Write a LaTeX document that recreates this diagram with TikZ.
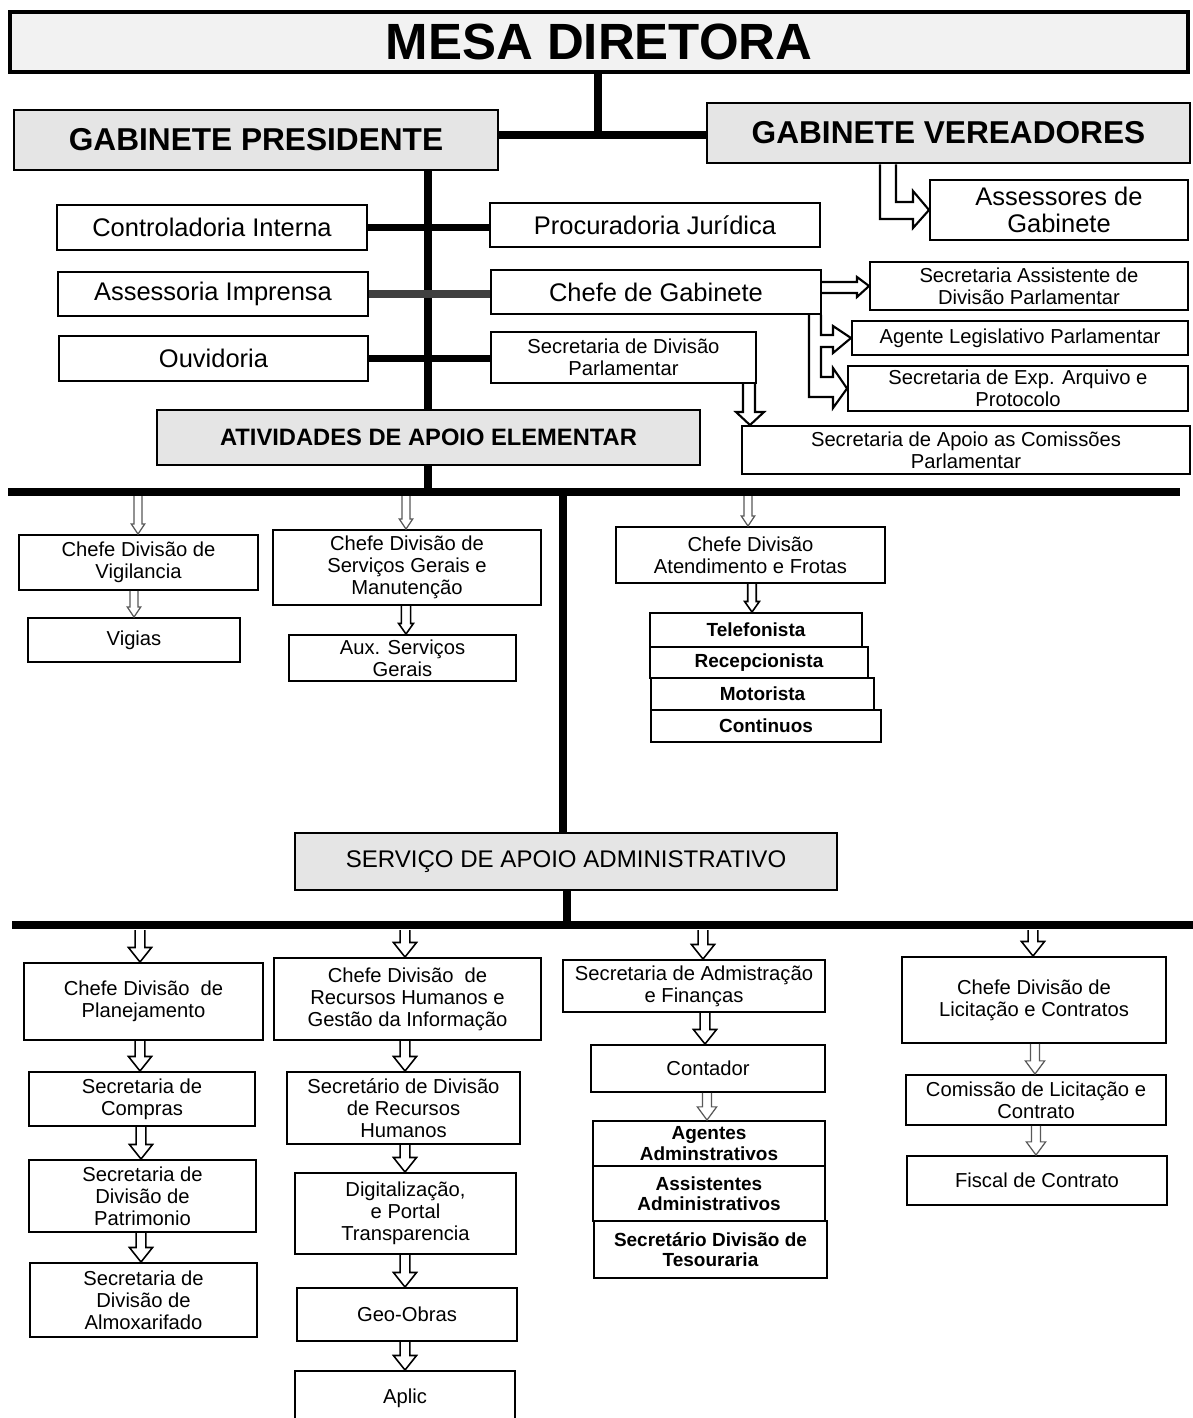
\documentclass[tikz,border=0pt]{standalone}
\usepackage{fontspec}
\setmainfont{Liberation Sans}
\usetikzlibrary{calc}
\tikzset{
  base/.style={draw, line width=1.1pt, inner sep=0pt, align=center,
    font=\fontsize{11.5}{12.5}\selectfont},
  midbox/.style={font=\fontsize{14.5}{15.5}\selectfont},
  stackbox/.style={font=\bfseries\fontsize{10.8}{11.5}\selectfont},
  headbox/.style={line width=1.5pt, fill=black!10,
    font=\bfseries\fontsize{18}{20}\selectfont},
  bigline/.style={line width=4.5pt},
  elbow/.style={draw, line width=1.2pt, line join=miter},
  upar/.style={draw, line width=0.7pt, black!65, line join=miter},
  lowar/.style={draw, line width=0.9pt, line join=miter},
}
% box from corner (x1,y1) to corner (x2,y2), in pixels
\newcommand\bx[7][]{%
  \pgfmathsetmacro\bxcx{(#3+#5)/2}%
  \pgfmathsetmacro\bxcy{(#4+#6)/2}%
  \pgfmathsetmacro\bxw{(#5-#3)*0.02}%
  \pgfmathsetmacro\bxh{(#6-#4)*0.02}%
  \node[base,#1,minimum width=\bxw cm,minimum height=\bxh cm] (#2) at (\bxcx,\bxcy) {#7};}
% hollow down arrow: style, from, to, x, shaft half, head half, head length
\newcommand\hdown[7]{\draw[#1] let \p1=(#2), \p2=(#3), \p3=(#4,0) in
  (\x3-#5,\y1) -- (\x3-#5,\y2+#7) -- (\x3-#6,\y2+#7) -- (\x3,\y2)
  -- (\x3+#6,\y2+#7) -- (\x3+#5,\y2+#7) -- (\x3+#5,\y1);}
\newcommand\uparr[3]{\hdown{upar}{#1}{#2}{#3}{2.3pt}{3.8pt}{5.7pt}}
\newcommand\lowarr[3]{\hdown{lowar}{#1}{#2}{#3}{2.8pt}{6.6pt}{8.3pt}}
\begin{document}
\begin{tikzpicture}[x=0.02cm,y=-0.02cm]
\useasboundingbox (0,0) rectangle (1193,1418);
\fill[white] (0,0) rectangle (1193,1418);

% ---------- top level
\bx[headbox, line width=1.8pt, fill=black!5, font=\bfseries\fontsize{29}{32}\selectfont]{mesa}{10}{12}{1188}{72}{MESA DIRETORA}
\bx[headbox]{gp}{14}{110}{498}{170}{GABINETE PRESIDENTE}
\bx[headbox]{gv}{707}{103}{1190}{163}{GABINETE VEREADORES}

\bx[midbox]{ci}{57}{205}{367}{250}{Controladoria Interna}
\bx[midbox]{ai}{58}{272}{368}{316}{Assessoria Imprensa}
\bx[midbox]{ouv}{59}{336}{368}{381}{Ouvidoria}
\bx[midbox]{pj}{490}{203}{820}{247}{Procuradoria Jurídica}
\bx[midbox]{cg}{491}{270}{821}{314}{Chefe de Gabinete}
\bx{sdp}{491}{332}{756}{383}{Secretaria de Divisão\\Parlamentar}
\bx[headbox, font=\bfseries\fontsize{13.5}{15}\selectfont]{ativ}{157}{410}{700}{465}{ATIVIDADES DE APOIO ELEMENTAR}

\bx[midbox]{ass}{930}{180}{1188}{240}{Assessores de\\Gabinete}
\bx{sass}{870}{262}{1188}{310}{Secretaria Assistente de\\Divisão Parlamentar}
\bx{agl}{852}{321}{1188}{355}{Agente Legislativo Parlamentar}
\bx{sexp}{848}{366}{1188}{411}{Secretaria de Exp. Arquivo e\\Protocolo}
\bx{sap}{742}{426}{1190}{474}{Secretaria de Apoio as Comissões\\Parlamentar}

% ---------- apoio elementar
\bx{vig}{19}{535}{258}{590}{Chefe Divisão de\\Vigilancia}
\bx{vigias}{28}{618}{240}{662}{Vigias}
\bx{csg}{273}{530}{541}{605}{Chefe Divisão de\\Serviços Gerais e\\Manutenção}
\bx{aux}{289}{635}{516}{681}{Aux. Serviços\\Gerais}
\bx{caf}{616}{527}{885}{583}{Chefe Divisão\\Atendimento e Frotas}
\bx[stackbox]{tel}{650}{613}{862}{647}{Telefonista}
\bx[stackbox]{rec}{650}{647}{868}{678}{Recepcionista}
\bx[stackbox]{mot}{651}{678}{874}{710}{Motorista}
\bx[stackbox]{con}{651}{710}{881}{742}{Continuos}

% ---------- apoio administrativo
\bx[headbox, font=\fontsize{13.7}{15}\selectfont]{serv}{295}{833}{837}{890}{SERVIÇO DE APOIO ADMINISTRATIVO}

\bx{plan}{24}{963}{263}{1040}{Chefe Divisão~ de\\Planejamento}
\bx{comp}{29}{1072}{255}{1126}{Secretaria de\\Compras}
\bx{patr}{29}{1160}{256}{1232}{Secretaria de\\Divisão de\\Patrimonio}
\bx{almo}{30}{1263}{257}{1337}{Secretaria de\\Divisão de\\Almoxarifado}

\bx{crh}{274}{958}{541}{1040}{Chefe Divisão~ de\\Recursos Humanos e\\Gestão da Informação}
\bx{srh}{287}{1072}{520}{1144}{Secretário de Divisão\\de Recursos\\Humanos}
\bx{dig}{295}{1173}{516}{1254}{Digitalização,\\e Portal\\Transparencia}
\bx{geo}{297}{1288}{517}{1341}{Geo-Obras}
\bx{apl}{295}{1371}{515}{1426}{Aplic}

\bx{sadm}{563}{960}{825}{1012}{Secretaria de Admistração\\e Finanças}
\bx{cont}{591}{1045}{825}{1092}{Contador}
\bx[stackbox]{age}{593}{1121}{825}{1166}{Agentes\\Adminstrativos}
\bx[stackbox]{asi}{593}{1166}{825}{1221}{Assistentes\\Administrativos}
\bx[stackbox]{tes}{594}{1221}{827}{1278}{Secretário Divisão de\\Tesouraria}

\bx{lic}{902}{957}{1166}{1043}{Chefe Divisão de\\Licitação e Contratos}
\bx{com}{906}{1075}{1166}{1125}{Comissão de Licitação e\\Contrato}
\bx{fis}{907}{1156}{1167}{1205}{Fiscal de Contrato}

% ---------- bars (free ends)
\coordinate (b1l) at (8,492);
\coordinate (b1r) at (1180,492);
\coordinate (b1) at (0,496);
\coordinate (b2l) at (12,925);
\coordinate (b2r) at (1193,925);
\coordinate (b2) at (0,930);

% ---------- thick connectors
\draw[bigline] (598,0 |- mesa.south) -- (598,137);
\draw[bigline] (gp.east |- 0,135) -- (gv.west |- 0,135);
\draw[bigline] (428,0 |- gp.south) -- (428,0 |- ativ.north);
\draw[bigline] (428,0 |- ativ.south) -- (428,0 |- b1l);
\draw[bigline] (ci.east) -- (pj.west |- ci.east);
\draw[bigline, black!75] (ai.east) -- (cg.west |- ai.east);
\draw[bigline] (ouv.east) -- (sdp.west |- ouv.east);
\draw[bigline] (b1l) -- (b1r);
\draw[bigline] (563,0 |- b1l) -- (563,0 |- serv.north);
\draw[bigline] (567,0 |- serv.south) -- (567,0 |- b2l);
\draw[bigline] (b2l) -- (b2r);

% ---------- hollow elbow arrows
\draw[elbow] (880,0 |- gv.south) -- (880,219) -- (913,219) -- (913,228)
  -- (ass.west) -- (913,191) -- (913,202) -- (896,202) -- (896,0 |- gv.south);
\draw[elbow] (cg.east |- 0,282) -- (857,282) -- (857,277) -- (sass.west)
  -- (857,297) -- (857,293) -- (cg.east |- 0,293);
\draw[elbow] (809,0 |- cg.south) -- (809,397) -- (833,397) -- (833,408)
  -- (sexp.west) -- (833,368) -- (833,377) -- (821,377) -- (821,347)
  -- (833,347) -- (833,353) -- (agl.west) -- (833,326) -- (833,335)
  -- (821,335) -- (821,0 |- cg.south);
\draw[elbow] (743,0 |- sdp.south) -- (743,412) -- (736,412) -- (750,0 |- sap.north)
  -- (764,412) -- (755,412) -- (755,0 |- sdp.south);

% ---------- hollow down arrows, upper part
\uparr{b1}{vig.north}{138}
\uparr{b1}{csg.north}{406}
\uparr{b1}{caf.north}{748}
\uparr{vig.south}{vigias.north}{134}
\hdown{lowar}{csg.south}{aux.north}{406}{2.6pt}{4.2pt}{6pt}
\hdown{lowar}{caf.south}{tel.north}{752}{2.4pt}{4.2pt}{6pt}

% ---------- hollow down arrows, lower part
\lowarr{b2}{plan.north}{140}
\lowarr{b2}{crh.north}{405}
\lowarr{b2}{sadm.north}{703}
\lowarr{b2}{lic.north}{1033}
\lowarr{plan.south}{comp.north}{140}
\lowarr{comp.south}{patr.north}{141}
\lowarr{patr.south}{almo.north}{141}
\lowarr{crh.south}{srh.north}{405}
\lowarr{srh.south}{dig.north}{405}
\lowarr{dig.south}{geo.north}{405}
\lowarr{geo.south}{apl.north}{405}
\lowarr{sadm.south}{cont.north}{705}
\hdown{upar}{cont.south}{age.north}{707}{2.6pt}{5.5pt}{7.5pt}
\hdown{upar}{lic.south}{com.north}{1035}{2.6pt}{5.5pt}{7.5pt}
\hdown{upar}{com.south}{fis.north}{1036}{2.6pt}{5.5pt}{7.5pt}
\end{tikzpicture}
\end{document}
